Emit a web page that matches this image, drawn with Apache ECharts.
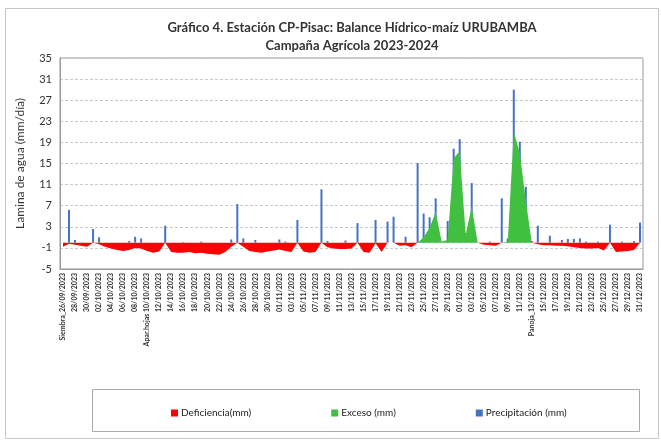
<!DOCTYPE html>
<html>
<head>
<meta charset="utf-8">
<script src="https://cdn.jsdelivr.net/npm/echarts@6/dist/echarts.min.js"></script>
<style>
  html, body { margin: 0; padding: 0; background: #fff; }
  #main { width: 661px; height: 441px; }
</style>
</head>
<body>
<div id="main"></div>
<script>
// fechas diarias 26/09/2023 - 31/12/2023
let fechas = []
for (let i = 0; i < 97; i++) {
    let d = new Date(2023, 8, 26 + i)
    let dd = String(d.getDate()).padStart(2, '0')
    let mm = String(d.getMonth() + 1).padStart(2, '0')
    fechas.push(`${dd}/${mm}/2023`)
}
// etiquetas de fenologia
let etiquetasEspeciales = {
    0: 'Siembra_26/09/2023',
    14: 'Apar.hojas 10/10/2023',
    78: 'Panoja_13/12/2023'
}

// precipitacion (mm) por dia
let precipitacion = [
    0, 6.2, 0.5, 0, 0, 2.6, 1.0, 0, 0, 0,
    0, 0.3, 1.1, 0.8, 0, 0, 0, 3.2, 0, 0,
    0.1, 0, 0, 0.2, 0, 0, 0, 0, 0.6, 7.3,
    0.8, 0, 0.5, 0, 0, 0, 0.6, 0.2, 0, 4.3,
    0, 0, 0, 10.1, 0.3, 0, 0, 0.4, 0, 3.7,
    0, 0, 4.3, 0, 4.0, 4.9, 0, 1.1, 0, 15.1,
    5.5, 4.8, 8.4, 0, 4.1, 17.8, 19.6, 1.8, 11.3, 0,
    0, 0.2, 0, 8.4, 0.8, 29.0, 19.1, 10.6, 0.3, 3.2,
    0, 1.3, 0, 0.5, 0.7, 0.7, 0.8, 0.2, 0, 0.2,
    0, 3.4, 0, 0.2, 0, 0.3, 3.8
]

// deficiencia (mm), negativa
let deficiencia = [
    -0.8, -0.2, -0.4, -0.6, -0.8, 0, -0.3, -0.8, -1.1, -1.4,
    -1.6, -1.4, -1.0, -1.1, -1.6, -1.9, -1.7, 0, -1.8, -1.9,
    -1.9, -1.8, -2.0, -1.9, -2.1, -2.2, -2.3, -1.8, -0.8, 0,
    -0.8, -1.6, -1.8, -1.9, -1.7, -1.5, -1.3, -1.6, -1.8, 0,
    -1.7, -1.9, -1.8, 0, -0.9, -1.1, -1.2, -1.2, -1.1, 0,
    -1.8, -1.9, -0.1, -1.8, 0, 0, -0.6, -0.5, -0.9, 0,
    0, 0, 0, 0, 0, 0, 0, 0, 0, 0,
    -0.4, -0.5, -0.6, 0, 0, 0, 0, 0, 0, -0.3,
    -0.5, -0.5, -0.6, -0.6, -0.7, -0.9, -1.0, -1.1, -1.1, -1.0,
    -1.5, 0, -1.8, -1.7, -1.6, -1.4, 0
]

// exceso (mm)
let exceso = [
    0, 0, 0, 0, 0, 0, 0, 0, 0, 0,
    0, 0, 0, 0, 0, 0, 0, 0, 0, 0,
    0, 0, 0, 0, 0, 0, 0, 0, 0, 0,
    0, 0, 0, 0, 0, 0, 0, 0, 0, 0,
    0, 0, 0, 0, 0, 0, 0, 0, 0, 0,
    0, 0, 0, 0, 0, 0, 0, 0, 0, 0,
    1.0, 2.8, 5.8, 0.2, 0.5, 16.0, 17.3, 1.5, 6.8, 0,
    0, 0, 0, 0, 0.2, 21.0, 17.0, 8.0, 0, 0,
    0, 0, 0, 0, 0, 0, 0, 0, 0, 0,
    0, 0, 0, 0, 0, 0, 0
]

let yTicks = [-5, 35, 4]

let myChart = echarts.init(document.getElementById('main'))
let option = {
    backgroundColor: '#fff',
    animation: false,
    textStyle: { fontFamily: 'Lato, "Open Sans", sans-serif' },
    title: {
        text: 'Gráfico 4. Estación CP-Pisac: Balance Hídrico-maíz URUBAMBA\nCampaña Agrícola 2023-2024',
        left: 347,
        top: 14,
        textAlign: 'center',
        textStyle: { fontSize: 13, fontWeight: 'bold', color: '#333', lineHeight: 18, fontFamily: 'Lato' }
    },
    legend: {
        left: 166,
        top: 403,
        itemGap: 80,
        itemWidth: 7,
        itemHeight: 7,
        icon: 'rect',
        textStyle: { fontSize: 10, color: '#222', padding: [0, 0, 0, -2] },
        data: ['Deficiencia(mm)', 'Exceso (mm)', 'Precipitación (mm)']
    },
    graphic: [
        { type: 'rect', left: 3, top: 6, shape: { width: 653, height: 430 }, style: { fill: 'none', stroke: '#c8c8c8', lineWidth: 1 }, silent: true },
        { type: 'rect', left: 90, top: 387, shape: { width: 547, height: 42 }, style: { fill: 'none', stroke: '#aaa', lineWidth: 1 }, silent: true }
    ],
    grid: {
        left: 60,
        right: 18,
        top: 58,
        bottom: 172,
        show: true,
        borderColor: '#999',
        borderWidth: 1
    },
    xAxis: {
        type: 'category',
        data: fechas,
        boundaryGap: true,
        axisLine: { onZero: false, lineStyle: { color: '#999' } },
        axisTick: { show: false },
        axisLabel: {
            interval: 1,
            rotate: 90,
            fontSize: 7,
            fontWeight: 'bold',
            color: '#333',
            margin: 4,
            formatter: function (v, i) {
                return etiquetasEspeciales[i] || v
            }
        }
    },
    yAxis: {
        type: 'value',
        min: yTicks[0],
        max: yTicks[1],
        interval: yTicks[2],
        name: 'Lamina de agua (mm/día)',
        nameLocation: 'middle',
        nameGap: 34,
        nameTextStyle: { fontSize: 12, color: '#333' },
        axisLine: { show: true, lineStyle: { color: '#999' } },
        axisTick: { show: false },
        axisLabel: { fontSize: 11, color: '#333', margin: 8 },
        splitLine: { lineStyle: { type: [3, 2], color: '#c8c8c8' } }
    },
    series: [
        {
            name: 'Deficiencia(mm)',
            type: 'line',
            data: deficiencia,
            symbol: 'none',
            lineStyle: { width: 0 },
            itemStyle: { color: '#ff0000' },
            areaStyle: { color: '#ff0000', opacity: 1 }
        },
        {
            name: 'Exceso (mm)',
            type: 'line',
            data: exceso,
            symbol: 'none',
            lineStyle: { width: 0 },
            itemStyle: { color: '#40bf40' },
            areaStyle: { color: '#40bf40', opacity: 1 }
        },
        {
            name: 'Precipitación (mm)',
            type: 'bar',
            data: precipitacion,
            barWidth: 2,
            itemStyle: { color: '#4472c4' }
        }
    ]
}
myChart.setOption(option)
</script>
</body>
</html>
